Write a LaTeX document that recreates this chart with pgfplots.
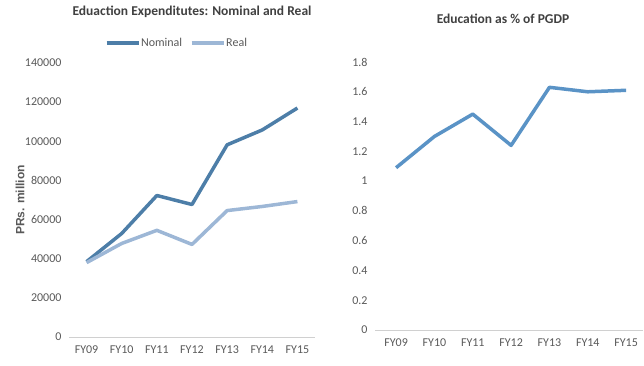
\documentclass[border=0pt]{standalone}
\usepackage{pgfplots}
\pgfplotsset{compat=1.18}
\usepackage{fontspec}
\setmainfont{Carlito}
\newfontfamily\arialfont{Liberation Sans}
\definecolor{nomc}{HTML}{4D7EA8}
\definecolor{realc}{HTML}{9DB7D6}
\definecolor{pgdpc}{HTML}{5A93C6}
\definecolor{tickc}{HTML}{595959}
\definecolor{titc}{HTML}{404040}
\definecolor{axc}{HTML}{D0D0D0}
\begin{document}
\begin{tikzpicture}
\path[use as bounding box] (0pt,0pt) rectangle (644pt,365pt);
\pgfplotsset{
  mystyle/.style={
    scale only axis,
    axis x line*=bottom,
    axis y line*=left,
    x axis line style={draw=axc, line width=0.8pt, -},
    y axis line style={draw=none},
    xtick={0,...,6},
    xticklabels={FY09,FY10,FY11,FY12,FY13,FY14,FY15},
    major tick length=0pt,
    tick style={draw=none},
    ticklabel style={font=\fontsize{12}{13}\selectfont, text=tickc},
    xticklabel style={yshift=-5pt},
    yticklabel style={xshift=-4pt},
    /pgf/number format/assume math mode=true,
    title style={font=\bfseries\fontsize{13.5}{15}\selectfont, text=titc},
  }
}
% Left chart
\begin{axis}[mystyle,
  at={(69pt,28pt)}, anchor=south west,
  width=246pt, height=274pt,
  xmin=-0.5, xmax=6.5,
  ymin=0, ymax=140000,
  ytick={0,20000,...,140000},
  yticklabel style={/pgf/number format/fixed, /pgf/number format/1000 sep={}},
  scaled y ticks=false,
  title={Eduaction Expenditutes: Nominal and Real},
  title style={at={(rel axis cs:0.5,1)}, anchor=center, yshift=45pt},
  ylabel={\arialfont\bfseries PRs. million},
  ylabel style={font=\fontsize{12}{13}\selectfont, text=tickc, at={(rel axis cs:0,0.5)}, anchor=center, xshift=0pt, yshift=49pt},
  legend style={draw=none, fill=none, at={(rel axis cs:0.435,1)}, anchor=center, yshift=20pt,
    legend columns=2, font=\fontsize{12}{13}\selectfont, text=tickc,
    /tikz/every even column/.append style={column sep=7pt},
    inner sep=0pt, nodes={inner sep=0.5pt}},
  legend image code/.code={\draw[#1, line width=4pt] (0pt,0pt) -- (32pt,0pt);},
]
\addplot[color=nomc, line width=3.5pt, line join=round] coordinates {
(0,38500) (1,52900) (2,72300) (3,67700) (4,98200) (5,105800) (6,117000)};
\addlegendentry{Nominal}
\addplot[color=realc, line width=3.5pt, line join=round] coordinates {
(0,38000) (1,47800) (2,54500) (3,47300) (4,64600) (5,66700) (6,69200)};
\addlegendentry{Real}
\end{axis}
% Right chart
\begin{axis}[mystyle,
  at={(375pt,35pt)}, anchor=south west,
  width=268pt, height=268pt,
  xmin=-0.55, xmax=6.44,
  ymin=0, ymax=1.8,
  ytick={0,0.2,...,1.81},
  yticklabel style={/pgf/number format/fixed, /pgf/number format/precision=1},
  title={Education as \% of PGDP},
  title style={at={(rel axis cs:0.5,1)}, anchor=center, yshift=37pt, xshift=-6pt},
]
\addplot[color=pgdpc, line width=3.5pt, line join=round] coordinates {
(0,1.09) (1,1.30) (2,1.45) (3,1.24) (4,1.63) (5,1.60) (6,1.61)};
\end{axis}
\end{tikzpicture}
\end{document}
